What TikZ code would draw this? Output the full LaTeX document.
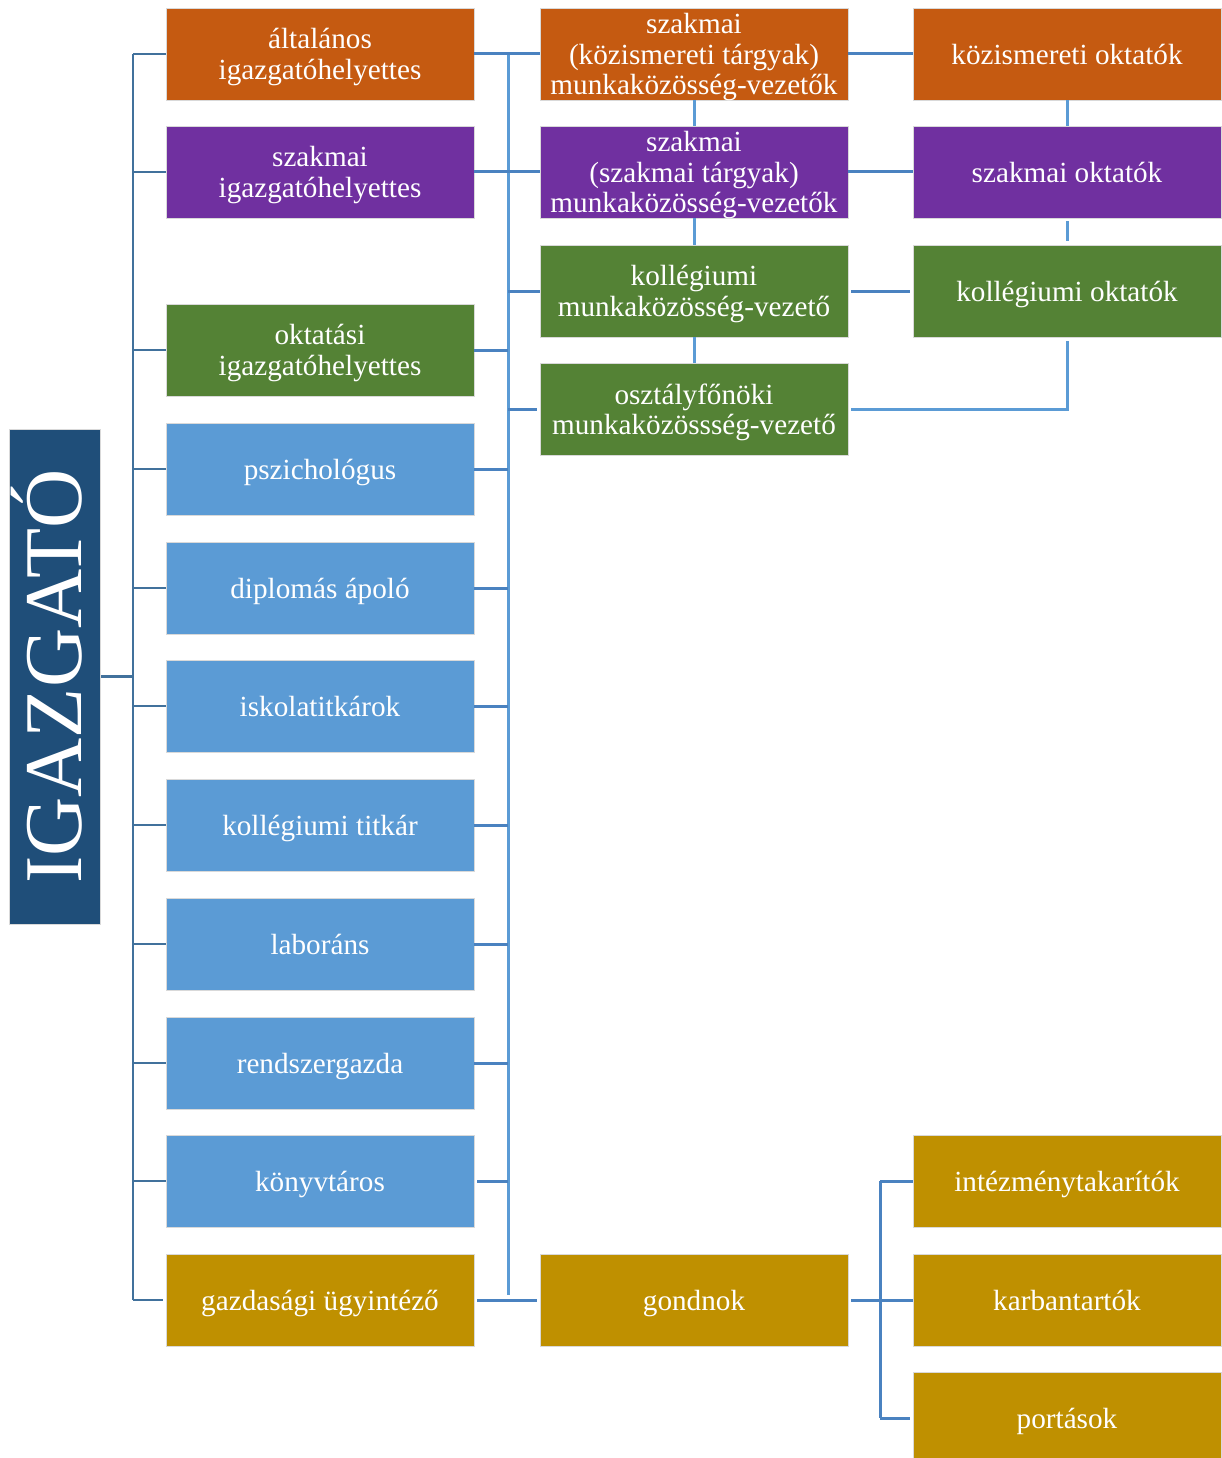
\documentclass[tikz,border=0pt]{standalone}
\usepackage{fontspec}
\setmainfont{Liberation Serif}
\usepackage{xcolor}
\usetikzlibrary{calc}

\definecolor{igorange}{HTML}{C55A11}
\definecolor{igpurple}{HTML}{7030A0}
\definecolor{iggreen}{HTML}{548235}
\definecolor{igblue}{HTML}{5B9BD5}
\definecolor{iggold}{HTML}{BF9000}
\definecolor{ignavy}{HTML}{1F4E79}
\definecolor{linkdark}{HTML}{41719C}
\definecolor{linkmid}{HTML}{4A82C0}
\definecolor{linklight}{HTML}{5B9BD5}

\begin{document}
\begin{tikzpicture}[x=1pt,y=-1pt,
    box/.style={minimum width=308pt,minimum height=92pt,inner sep=0pt,align=center,text depth=0pt,
      text=white,draw=white!85!black,line width=0.6pt,font=\fontsize{29.2}{30.5}\selectfont},
    lnk/.style={draw=linkdark,line width=2.8pt},
    lnm/.style={draw=linkmid,line width=3pt},
    lnl/.style={draw=linklight,line width=3pt}]
      \useasboundingbox (0,0) rectangle (1221,1458);
      \node[rotate=90,minimum width=495pt,minimum height=91pt,inner sep=0pt,fill=ignavy,text height=55pt,
        draw=white!85!black,text=white,font=\fontsize{82}{82}\selectfont] (ig) at (54.5,676.5) {IGAZGATÓ};
      \node[box,fill=igorange] (a1) at (320,54) {általános\\igazgatóhelyettes};
      \node[box,fill=igpurple] (a2) at (320,172) {szakmai\\igazgatóhelyettes};
      \node[box,fill=iggreen] (a3) at (320,350) {oktatási\\igazgatóhelyettes};
      \node[box,fill=igblue] (a4) at (320,469) {pszichológus};
      \node[box,fill=igblue] (a5) at (320,588) {diplomás ápoló};
      \node[box,fill=igblue] (a6) at (320,706) {iskolatitkárok};
      \node[box,fill=igblue] (a7) at (320,825) {kollégiumi titkár};
      \node[box,fill=igblue] (a8) at (320,944) {laboráns};
      \node[box,fill=igblue] (a9) at (320,1063) {rendszergazda};
      \node[box,fill=igblue] (a10) at (320,1181) {könyvtáros};
      \node[box,fill=iggold] (a11) at (320,1300) {gazdasági ügyintéző};
      \node[box,fill=igorange] (b1) at (694,54) {szakmai\\(közismereti tárgyak)\\munkaközösség-vezetők};
      \node[box,fill=igpurple] (b2) at (694,172) {szakmai\\(szakmai tárgyak)\\munkaközösség-vezetők};
      \node[box,fill=iggreen] (b3) at (694,291) {kollégiumi\\munkaközösség-vezető};
      \node[box,fill=iggreen] (b4) at (694,409) {osztályfőnöki\\munkaközössség-vezető};
      \node[box,fill=iggold] (b5) at (694,1300) {gondnok};
      \node[box,fill=igorange] (c1) at (1067,54) {közismereti oktatók};
      \node[box,fill=igpurple] (c2) at (1067,172) {szakmai oktatók};
      \node[box,fill=iggreen] (c3) at (1067,291) {kollégiumi oktatók};
      \node[box,fill=iggold] (c4) at (1067,1181) {intézménytakarítók};
      \node[box,fill=iggold] (c5) at (1067,1300) {karbantartók};
      \node[box,fill=iggold] (c6) at (1067,1418) {portások};
      \coordinate (lbus) at (133,0);
      \coordinate (mbus) at (508,0);
      \coordinate (rbus) at (880,0);
      \draw[lnk] (a1.west -| lbus) -- (a11.west -| lbus);
      \draw[lnk,shorten <=1pt] (ig.south) -- (ig.south -| lbus);
      \draw[lnk,shorten >=3pt] (a1.west -| lbus) -- (a1.west) (a2.west -| lbus) -- (a2.west)
        (a3.west -| lbus) -- (a3.west) (a4.west -| lbus) -- (a4.west)
        (a5.west -| lbus) -- (a5.west) (a6.west -| lbus) -- (a6.west)
        (a7.west -| lbus) -- (a7.west) (a8.west -| lbus) -- (a8.west)
        (a9.west -| lbus) -- (a9.west) (a10.west -| lbus) -- (a10.west)
        (a11.west -| lbus) -- (a11.west);
      \draw[lnl,shorten >=5pt] (a1.east -| mbus) -- (a11.east -| mbus);
      \draw[lnm,shorten <=3pt] (a1.east) -- (a1.east -| mbus) (a2.east) -- (a2.east -| mbus)
        (a3.east) -- (a3.east -| mbus) (a4.east) -- (a4.east -| mbus)
        (a5.east) -- (a5.east -| mbus) (a6.east) -- (a6.east -| mbus)
        (a7.east) -- (a7.east -| mbus) (a8.east) -- (a8.east -| mbus)
        (a9.east) -- (a9.east -| mbus) (a10.east) -- (a10.east -| mbus);
      \draw[lnm,shorten >=3pt] (b1.west -| mbus) -- (b1.west) (b2.west -| mbus) -- (b2.west)
        (b3.west -| mbus) -- (b3.west) (b4.west -| mbus) -- (b4.west);
      \draw[lnm,shorten <=3pt,shorten >=3pt] (a11.east) -- (b5.west);
      \draw[lnl,shorten <=3pt,shorten >=4pt] (b1.south) -- (b2.north) (b2.south) -- (b3.north)
        (b3.south) -- (b4.north) (c1.south) -- (c2.north) (c2.south) -- (c3.north);
      \draw[lnm,shorten <=3pt,shorten >=3pt] (b1.east) -- (c1.west) (b2.east) -- (c2.west)
        (b3.east) -- (c3.west);
      \draw[lnl,shorten <=3pt,shorten >=4pt] (b4.east) -| (c3.south);
      \draw[lnm,shorten <=3pt] (b5.east) -- (b5.east -| rbus);
      \draw[lnm] (c4.west -| rbus) -- (c6.west -| rbus);
      \draw[lnm,shorten >=3pt] (c4.west -| rbus) -- (c4.west) (c5.west -| rbus) -- (c5.west)
        (c6.west -| rbus) -- (c6.west);
\end{tikzpicture}
\end{document}
